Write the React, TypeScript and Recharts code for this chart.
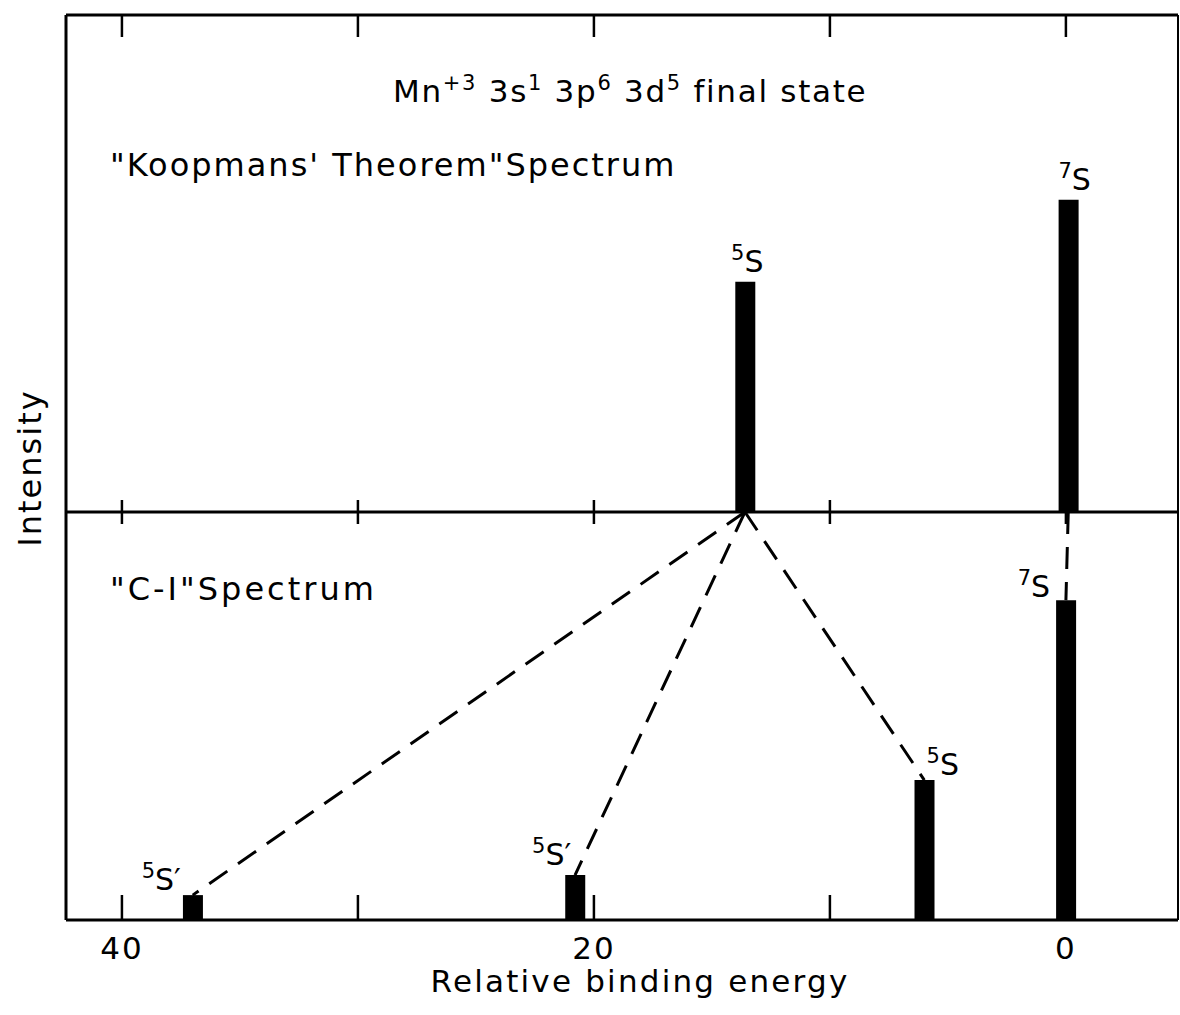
import React from 'react';
import { ComposedChart, Bar, XAxis, YAxis, ReferenceLine, LabelList } from 'recharts';

// Koopmans' theorem spectrum (top panel)
const KOOP_ENERGY = [13.6, -0.1];
const KOOP_INTENSITY = [56.4, 76.5];
const KOOP_LABELS = ['5S', '7S'];

// C-I spectrum (bottom panel)
const CI_ENERGY = [37.0, 20.8, 6.0, 0];
const CI_INTENSITY = [6.1, 11.0, 34.3, 78.4];
const CI_LABELS = ["5S'", "5S'", '5S', '7S'];
// index of the Koopmans level each C-I state comes from
const CI_PARENT = [0, 0, 0, 1];

const X_TICKS = [40, 30, 20, 10, 0];
const X_TICK_LABELS = ['40', '', '20', '', '0'];
const X_DOMAIN: [number, number] = [-4.75, 42.37];
const KOOP_Y_MAX = 121.8;
const CI_Y_MAX = 100;

const FONT = '"DejaVu Sans", sans-serif';
const INK = '#000';

const koopData = KOOP_ENERGY.map((e, i) => ({ e, v: KOOP_INTENSITY[i], label: KOOP_LABELS[i] }));
const ciData = CI_ENERGY.map((e, i) => ({ e, v: CI_INTENSITY[i], label: CI_LABELS[i] }));

const KOOP_LABEL_STYLE = [
  { anchor: 'middle', dx: 2, dy: -10 },
  { anchor: 'middle', dx: 6, dy: -10 },
];
const CI_LABEL_STYLE = [
  { anchor: 'end', dx: -12, dy: -5 },
  { anchor: 'end', dx: -4, dy: -10 },
  { anchor: 'start', dx: 2, dy: -5 },
  { anchor: 'end', dx: -16, dy: -3 },
];

const StateLabel = (labels: string[], styles: any[]) => (props: any) => {
  const { x, y, width, index } = props;
  const st = styles[index];
  const txt = labels[index];
  const sup = txt[0];
  const rest = txt.slice(1).replace("'", '\u2032');
  return (
    <text x={x + width / 2 + st.dx} y={y + st.dy} textAnchor={st.anchor} fontSize={30} fontFamily={FONT} fill={INK}>
      <tspan fontSize={21} dy={-12}>{sup}</tspan>
      <tspan dy={12}>{rest}</tspan>
    </text>
  );
};

const TickMark = (dir: number, len: number, withLabel: boolean) => (props: any) => {
  const { x, y, payload, index } = props;
  const i = X_TICKS.indexOf(payload.value);
  return (
    <g key={index}>
      <line x1={x} x2={x} y1={y} y2={y + dir * len} stroke={INK} strokeWidth={2.5} />
      {withLabel && X_TICK_LABELS[i] ? (
        <text x={x} y={y + 39} textAnchor="middle" fontSize={31} letterSpacing={2} fontFamily={FONT} fill={INK}>
          {X_TICK_LABELS[i]}
        </text>
      ) : null}
    </g>
  );
};

const axisLine = { stroke: INK, strokeWidth: 3 };

export default function App() {
  return (
    <div style={{ position: 'absolute', left: 0, top: 0, width: 1180, height: 1015, background: '#fff' }}>
      <div style={{ position: 'absolute', left: 0, top: 0 }}>
        <ComposedChart width={1180} height={522} data={koopData} margin={{ top: 14, right: 1, bottom: 9, left: 65 }}>
          <XAxis xAxisId="b" dataKey="e" type="number" domain={X_DOMAIN} reversed ticks={X_TICKS} interval={0}
            height={1} tickSize={0} tickMargin={0} axisLine={axisLine} tick={TickMark(-1, 12, false)} allowDataOverflow />
          <XAxis xAxisId="t" orientation="top" dataKey="e" type="number" domain={X_DOMAIN} reversed ticks={X_TICKS} interval={0}
            height={1} tickSize={0} tickMargin={0} axisLine={axisLine} tick={TickMark(1, 22, false)} allowDataOverflow />
          <YAxis yAxisId="l" domain={[0, KOOP_Y_MAX]} width={1} tick={false} tickLine={false} axisLine={axisLine} />
          <YAxis yAxisId="r" orientation="right" domain={[0, KOOP_Y_MAX]} width={1} tick={false} tickLine={false} axisLine={{ stroke: INK, strokeWidth: 2 }} />
          <Bar xAxisId="b" yAxisId="l" dataKey="v" barSize={20} fill={INK} isAnimationActive={false}>
            <LabelList dataKey="label" content={StateLabel(KOOP_LABELS, KOOP_LABEL_STYLE)} />
          </Bar>
        </ComposedChart>
      </div>
      <div style={{ position: 'absolute', left: 0, top: 502 }}>
        <ComposedChart width={1180} height={513} data={ciData} margin={{ top: 9, right: 1, bottom: 94, left: 65 }}>
          <XAxis xAxisId="b" dataKey="e" type="number" domain={X_DOMAIN} reversed ticks={X_TICKS} interval={0}
            height={1} tickSize={0} tickMargin={0} axisLine={axisLine} tick={TickMark(-1, 25, true)} allowDataOverflow />
          <XAxis xAxisId="t" orientation="top" dataKey="e" type="number" domain={X_DOMAIN} reversed ticks={X_TICKS} interval={0}
            height={1} tickSize={0} tickMargin={0} axisLine={false} tick={TickMark(1, 12, false)} allowDataOverflow />
          <YAxis yAxisId="l" domain={[0, CI_Y_MAX]} width={1} tick={false} tickLine={false} axisLine={axisLine} />
          <YAxis yAxisId="r" orientation="right" domain={[0, CI_Y_MAX]} width={1} tick={false} tickLine={false} axisLine={{ stroke: INK, strokeWidth: 2 }} />
          {CI_ENERGY.map((e, i) => (
            <ReferenceLine key={i} xAxisId="b" yAxisId="l"
              segment={[{ x: KOOP_ENERGY[CI_PARENT[i]], y: CI_Y_MAX }, { x: e, y: CI_INTENSITY[i] }]}
              stroke={INK} strokeWidth={3} strokeDasharray="22 13" />
          ))}
          <Bar xAxisId="b" yAxisId="l" dataKey="v" barSize={20} fill={INK} isAnimationActive={false}>
            <LabelList dataKey="label" content={StateLabel(CI_LABELS, CI_LABEL_STYLE)} />
          </Bar>
        </ComposedChart>
      </div>
      <svg width={1180} height={1015} style={{ position: 'absolute', left: 0, top: 0, pointerEvents: 'none' }}>
        <g fontFamily={FONT} fill={INK} fontSize={31}>
          <text x={393} y={102} letterSpacing={1.7}>
            <tspan>Mn</tspan><tspan fontSize={21} dy={-12}>+3</tspan>
            <tspan dy={12}> 3s</tspan><tspan fontSize={21} dy={-12}>1</tspan>
            <tspan dy={12}> 3p</tspan><tspan fontSize={21} dy={-12}>6</tspan>
            <tspan dy={12}> 3d</tspan><tspan fontSize={21} dy={-12}>5</tspan>
            <tspan dy={12}> final state</tspan>
          </text>
          <text x={110} y={176} fontSize={32} letterSpacing={2}>"Koopmans' Theorem"Spectrum</text>
          <text x={110} y={600} fontSize={32} letterSpacing={3}>"C-I"Spectrum</text>
          <text x={640} y={992} textAnchor="middle" letterSpacing={2.2}>Relative binding energy</text>
          <text x={0} y={0} textAnchor="middle" fontSize={32} letterSpacing={2} transform="translate(41,468) rotate(-90)">Intensity</text>
        </g>
      </svg>
    </div>
  );
}
